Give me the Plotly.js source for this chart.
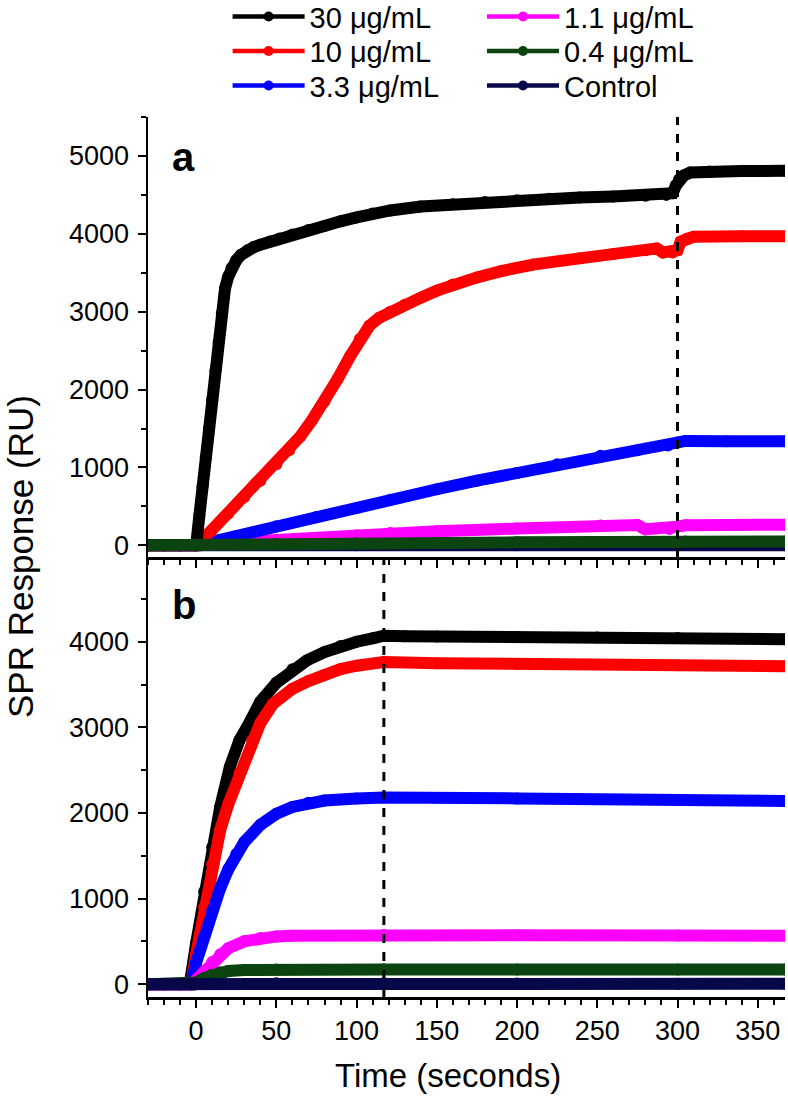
<!DOCTYPE html>
<html><head><meta charset="utf-8">
<script src="https://cdn.plot.ly/plotly-3.0.1.min.js"></script>
<style>body{margin:0;background:#fff}</style>
</head><body><div id="chart" style="width:788px;height:1109px"></div>
<script>
// ---- series names / colours ----
const seriesNames = ["30 μg/mL", "10 μg/mL", "3.3 μg/mL", "1.1 μg/mL", "0.4 μg/mL", "Control"];
const seriesColors = ["#000000", "#ff0000", "#0000ff", "#ff00ff", "#0b4410", "#07074a"];

// ---- panel a (association, injection end at 300 s) ----
const a_black_x = [-30,-20,-10,0,2,4,6,8,10,12,14,16,18,20,22,25,28,32,36,40,46,52,60,70,80,90,100,110,121,140,160,180,200,220,239,260,280,293,297,299,301,304,308,320,340,367];
const a_black_y = [0,0,0,0,380,760,1130,1500,1870,2240,2610,2980,3300,3450,3560,3660,3730,3790,3830,3860,3900,3940,3990,4050,4100,4160,4210,4260,4300,4350,4380,4410,4430,4450,4467,4480,4490,4500,4520,4620,4700,4750,4787,4800,4805,4810];

const a_red_x = [-30,-20,-10,0,10,20,30,40,50,58,65,72,80,88,96,102,108,114,121,130,140,150,160,175,190,210,239,260,280,287,291,297,300,302,306,310,340,367];
const a_red_y = [0,0,0,0,200,410,620,830,1040,1220,1400,1600,1850,2130,2430,2650,2820,2920,3000,3090,3180,3270,3350,3440,3520,3605,3685,3740,3790,3813,3760,3760,3790,3900,3940,3962,3968,3970];

const a_blue_x = [-30,-20,-10,0,25,50,75,100,121,150,175,200,225,252,275,294,300,305,330,367];
const a_blue_y = [0,0,0,0,120,245,365,480,586,720,830,930,1040,1150,1220,1282,1320,1340,1335,1335];

const a_mag_x = [-30,-20,-10,0,50,100,121,150,200,252,275,280,295,300,305,340,367];
const a_mag_y = [0,0,0,0,70,130,159,180,215,256,260,205,210,240,258,262,265];

const a_green_x = [-30,-20,-10,0,50,100,150,200,250,294,297,300,305,367];
const a_green_y = [0,0,0,0,18,26,33,38,42,44,40,45,48,50];

const a_ctrl_x = [-30,0,100,200,300,367];
const a_ctrl_y = [0,0,0,0,0,0];

// ---- panel b (association, injection end at ~117 s) ----
const b_black_x = [-30,-20,-10,-4,0,5,10,15,21,27,34,40,50,60,69,80,90,100,110,117,130,150,200,250,300,367];
const b_black_y = [0,0,0,0,480,1080,1600,2070,2538,2850,3082,3300,3520,3680,3782,3880,3950,4000,4040,4070,4065,4060,4055,4050,4045,4030];

const b_red_x = [-30,-20,-10,-3,0,5,10,15,20,27,35,40,48,60,70,79,90,100,117,150,200,300,367];
const b_red_y = [0,0,0,0,350,900,1400,1800,2100,2461,2850,3050,3277,3450,3540,3607,3680,3720,3762,3750,3740,3725,3715];

const b_blue_x = [-30,-20,-10,-3,0,5,10,15,20,25,30,40,50,60,70,80,100,117,200,300,367];
const b_blue_y = [0,0,0,0,250,560,860,1120,1340,1520,1660,1860,1990,2070,2120,2145,2170,2180,2170,2150,2140];

const b_mag_x = [-30,-20,-10,-3,0,5,10,15,20,30,40,50,60,117,200,300,367];
const b_mag_y = [0,0,0,0,50,150,260,350,420,500,540,558,566,575,572,568,565];

const b_green_x = [-30,-20,-10,-3,0,5,10,15,20,30,50,117,200,300,367];
const b_green_y = [0,0,0,0,20,70,110,140,155,165,170,172,172,171,170];

const b_ctrl_x = [-30,-20,-10,-3,0,10,50,117,200,300,367];
const b_ctrl_y = [0,0,0,0,5,8,10,10,8,6,5];

// ---- axes / annotation values ----
const xRange = [-30, 367];
const aRange = [-150, 5500];
const bRange = [-150, 4990];
const xTicks = [0, 50, 100, 150, 200, 250, 300, 350];
const aEnd = 300;   // dashed line panel a
const bEnd = 117;   // dashed line panel b
const panelLabels = ["a", "b"];
const xTitle = "Time (seconds)";
const yTitle = "SPR Response (RU)";

const FONT = "Liberation Sans, Arial, sans-serif";
const LW = 12, MS = 12;

function tr(x, y, idx, xa, ya) {
  return {
    x: x, y: y, type: "scatter", mode: "lines+markers",
    name: seriesNames[idx],
    line: {color: seriesColors[idx], width: LW},
    marker: {color: seriesColors[idx], size: MS},
    xaxis: xa, yaxis: ya,
    showlegend: false,
    hoverinfo: "x+y+name"
  };
}
// legend keys (thinner line + dot, as in the reference key); one legend box per entry
const legendIds = ["legend", "legend3", "legend5", "legend2", "legend4", "legend6"];
function key(idx) {
  return {
    x: [null], y: [null], type: "scatter", mode: "lines+markers",
    name: seriesNames[idx],
    line: {color: seriesColors[idx], width: 4.5},
    marker: {color: seriesColors[idx], size: 10},
    xaxis: "x2", yaxis: "y2",
    showlegend: true,
    legend: legendIds[idx]
  };
}

const data = [
  tr(a_ctrl_x, a_ctrl_y, 5, "x", "y"),
  tr(a_mag_x, a_mag_y, 3, "x", "y"),
  tr(a_blue_x, a_blue_y, 2, "x", "y"),
  tr(a_red_x, a_red_y, 1, "x", "y"),
  tr(a_black_x, a_black_y, 0, "x", "y"),
  tr(a_green_x, a_green_y, 4, "x", "y"),
  tr(b_black_x, b_black_y, 0, "x2", "y2"),
  tr(b_red_x, b_red_y, 1, "x2", "y2"),
  tr(b_blue_x, b_blue_y, 2, "x2", "y2"),
  tr(b_mag_x, b_mag_y, 3, "x2", "y2"),
  tr(b_green_x, b_green_y, 4, "x2", "y2"),
  tr(b_ctrl_x, b_ctrl_y, 5, "x2", "y2"),
  key(0), key(1), key(2), key(3), key(4), key(5)
];

const tickFont = {family: FONT, size: 27, color: "#000"};
const baseAx = {
  showgrid: false, zeroline: false, showline: true,
  linecolor: "#000", linewidth: 2.5,
  tickcolor: "#000", tickwidth: 2, ticklen: 8,
  tickfont: tickFont, automargin: false
};
function xAx(extra) {
  return Object.assign({}, baseAx, {
    range: xRange, tickmode: "array", tickvals: xTicks,
    minor: {dtick: 10, tick0: 0, ticklen: 5, tickwidth: 2, tickcolor: "#000", ticks: extra.ticks}
  }, extra);
}
function yAx(range, extra) {
  return Object.assign({}, baseAx, {
    range: range, dtick: 1000, tick0: 0,
    minor: {dtick: 500, tick0: 0, ticklen: 5, tickwidth: 2, tickcolor: "#000", ticks: extra.ticks}
  }, extra);
}

const PH = 880, TOP = 117, BOT = 997;
// legend rows (container px of row centre) and columns (container px of box left)
const rowCentre = [15, 49.5, 84];
const colLeft = [227.6, 482];
const LEG_FS = 29, LEG_OFF = 23.9;
function legBox(col, row) {
  return {
    xref: "paper", yref: "paper",
    x: (colLeft[col] - 148) / 637,
    y: 1 + (TOP - (rowCentre[row] - LEG_OFF)) / PH,
    xanchor: "left", yanchor: "top", orientation: "v", itemwidth: 72,
    font: {family: FONT, size: LEG_FS, color: "#000"},
    bgcolor: "rgba(0,0,0,0)", borderwidth: 0
  };
}

const layout = {
  width: 788, height: 1109,
  margin: {l: 148, r: 3, t: 117, b: 112, autoexpand: false},
  paper_bgcolor: "#fff", plot_bgcolor: "#fff",
  font: {family: FONT, color: "#000"},
  xaxis: xAx({domain: [0, 1], anchor: "y", ticks: "outside", showticklabels: false}),
  xaxis3: xAx({overlaying: "x", anchor: "y", side: "top", ticks: "inside", showticklabels: false}),
  yaxis: yAx(aRange, {domain: [0.5, 1], anchor: "x", ticks: "outside", ticklabelstandoff: 3}),
  yaxis3: yAx(aRange, {overlaying: "y", anchor: "x", side: "right", ticks: "inside", showticklabels: false}),
  xaxis2: xAx({domain: [0, 1], anchor: "y2", ticks: "outside", ticklabelstandoff: 0}),
  xaxis4: xAx({overlaying: "x2", anchor: "y2", side: "top", ticks: "inside", showticklabels: false}),
  yaxis2: yAx(bRange, {domain: [0, 0.5], anchor: "x2", ticks: "outside", ticklabelstandoff: 3}),
  yaxis4: yAx(bRange, {overlaying: "y2", anchor: "x2", side: "right", ticks: "inside", showticklabels: false}),
  shapes: [
    {type: "line", xref: "x", yref: "y domain", x0: aEnd, x1: aEnd, y0: 0, y1: 1,
     line: {color: "#000", width: 3, dash: "dash"}},
    {type: "line", xref: "x2", yref: "y2 domain", x0: bEnd, x1: bEnd, y0: 0, y1: 1,
     line: {color: "#000", width: 3, dash: "dash"}}
  ],
  annotations: [
    {text: "<b>" + panelLabels[0] + "</b>", xref: "x domain", yref: "y domain", x: 0.035, y: 0.91,
     xanchor: "left", yanchor: "middle", showarrow: false, font: {family: FONT, size: 40, color: "#000"}},
    {text: "<b>" + panelLabels[1] + "</b>", xref: "x2 domain", yref: "y2 domain", x: 0.035, y: 0.89,
     xanchor: "left", yanchor: "middle", showarrow: false, font: {family: FONT, size: 40, color: "#000"}},
    {text: yTitle, xref: "paper", yref: "paper", x: (20 - 148) / 637, y: 0.5, textangle: -90,
     xanchor: "center", yanchor: "middle", showarrow: false, font: {family: FONT, size: 35, color: "#000"}},
    {text: xTitle, xref: "paper", yref: "paper", x: (448 - 148) / 637, y: (BOT - 1075) / PH,
     xanchor: "center", yanchor: "middle", showarrow: false, font: {family: FONT, size: 33, color: "#000"}}
  ],
  legend: legBox(0, 0),
  legend3: legBox(0, 1),
  legend5: legBox(0, 2),
  legend2: legBox(1, 0),
  legend4: legBox(1, 1),
  legend6: legBox(1, 2)
};

Plotly.newPlot("chart", data, layout, {displayModeBar: false, staticPlot: true});
</script>
</body></html>
